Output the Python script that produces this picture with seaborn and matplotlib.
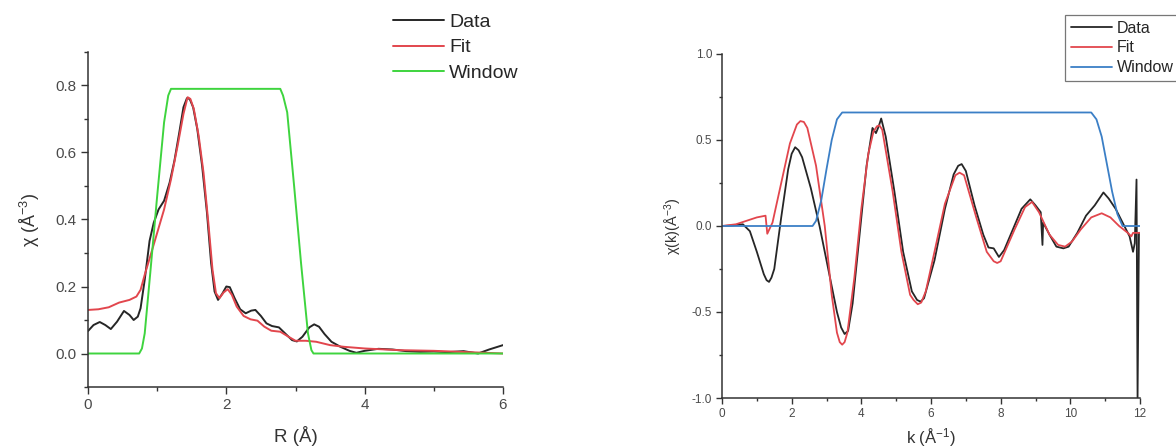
import numpy as np
import pandas as pd
import matplotlib
matplotlib.use("Agg")
import matplotlib.pyplot as plt
from matplotlib.ticker import MultipleLocator, FormatStrFormatter
import seaborn as sns

# ---------------- R-space (Fourier transform magnitude) ----------------
r_data = [0.00, 0.08, 0.17, 0.25, 0.33, 0.42, 0.52, 0.60, 0.66, 0.72, 0.76, 0.82,
          0.89, 0.95, 1.02, 1.10, 1.18, 1.25, 1.32, 1.38, 1.43, 1.47, 1.52, 1.58,
          1.65, 1.72, 1.78, 1.83, 1.88, 1.94, 2.00, 2.05, 2.12, 2.20, 2.28, 2.36,
          2.42, 2.50, 2.58, 2.66, 2.76, 2.85, 2.95, 3.02, 3.10, 3.20, 3.27, 3.34,
          3.42, 3.52, 3.65, 3.78, 3.88, 4.00, 4.20, 4.40, 4.60, 4.80, 5.00, 5.20,
          5.43, 5.64, 5.80, 6.00]
chi_r_data = [0.067, 0.085, 0.094, 0.085, 0.073, 0.095, 0.127, 0.115, 0.100, 0.110,
              0.135, 0.220, 0.336, 0.390, 0.430, 0.456, 0.510, 0.576, 0.660, 0.735,
              0.762, 0.760, 0.735, 0.670, 0.560, 0.420, 0.270, 0.185, 0.160, 0.178,
              0.200, 0.198, 0.165, 0.132, 0.120, 0.128, 0.130, 0.112, 0.090, 0.082,
              0.078, 0.060, 0.040, 0.036, 0.050, 0.078, 0.087, 0.080, 0.058, 0.035,
              0.020, 0.008, 0.002, 0.008, 0.014, 0.012, 0.007, 0.005, 0.006, 0.004,
              0.007, 0.000, 0.012, 0.025]

r_fit = [0.00, 0.15, 0.30, 0.45, 0.60, 0.70, 0.76, 0.82, 0.90, 1.00, 1.10, 1.20,
         1.30, 1.38, 1.44, 1.48, 1.53, 1.60, 1.67, 1.74, 1.80, 1.85, 1.90, 1.96,
         2.02, 2.08, 2.15, 2.25, 2.35, 2.45, 2.55, 2.65, 2.78, 2.90, 3.00, 3.15,
         3.30, 3.50, 3.70, 4.00, 4.50, 5.00, 5.50, 6.00]
chi_r_fit = [0.130, 0.132, 0.138, 0.152, 0.160, 0.170, 0.190, 0.235, 0.290, 0.360,
             0.430, 0.520, 0.625, 0.715, 0.765, 0.760, 0.730, 0.650, 0.540, 0.390,
             0.250, 0.180, 0.165, 0.182, 0.192, 0.175, 0.140, 0.112, 0.102, 0.098,
             0.080, 0.068, 0.065, 0.050, 0.038, 0.038, 0.035, 0.025, 0.020, 0.015,
             0.010, 0.008, 0.004, 0.000]

r_window = [0.00, 0.74, 0.78, 0.82, 0.90, 1.00, 1.10, 1.16, 1.20, 2.78, 2.82,
            2.88, 2.98, 3.08, 3.18, 3.23, 3.26, 6.00]
w_r_window = [0.00, 0.00, 0.015, 0.06, 0.24, 0.47, 0.69, 0.77, 0.79, 0.79, 0.77,
              0.72, 0.50, 0.27, 0.06, 0.01, 0.00, 0.00]

# ---------------- k-space (weighted EXAFS oscillations) ----------------
k_data = [0.00, 0.30, 0.60, 0.80, 1.00, 1.20, 1.28, 1.35, 1.42, 1.50, 1.70, 1.90,
          2.00, 2.10, 2.20, 2.30, 2.55, 2.80, 3.05, 3.30, 3.42, 3.52, 3.62, 3.75,
          3.95, 4.15, 4.32, 4.42, 4.50, 4.57, 4.70, 4.95, 5.20, 5.45, 5.60, 5.70,
          5.80, 6.10, 6.40, 6.65, 6.78, 6.88, 7.00, 7.25, 7.50, 7.65, 7.80, 7.95,
          8.10, 8.35, 8.60, 8.85, 9.00, 9.15, 9.20, 9.22, 9.40, 9.60, 9.80, 9.95,
          10.20, 10.45, 10.70, 10.95, 11.10, 11.30, 11.50, 11.70, 11.80, 11.85,
          11.90, 11.93, 11.97, 12.00]
chi_k_data = [0.000, 0.003, 0.010, -0.030, -0.150, -0.280, -0.315, -0.325, -0.300,
              -0.250, 0.050, 0.330, 0.420, 0.458, 0.440, 0.400, 0.220, 0.000,
              -0.250, -0.500, -0.590, -0.628, -0.610, -0.450, -0.050, 0.350, 0.570,
              0.540, 0.580, 0.625, 0.520, 0.200, -0.150, -0.380, -0.430, -0.440,
              -0.420, -0.200, 0.100, 0.300, 0.350, 0.360, 0.320, 0.120, -0.050,
              -0.125, -0.130, -0.180, -0.140, -0.020, 0.100, 0.155, 0.120, 0.080,
              -0.110, 0.020, -0.050, -0.120, -0.130, -0.120, -0.040, 0.060, 0.120,
              0.195, 0.160, 0.100, 0.020, -0.060, -0.150, -0.100, 0.270, -1.000,
              -0.040, -0.040]

k_fit = [0.00, 0.40, 0.70, 1.00, 1.25, 1.30, 1.45, 1.70, 1.95, 2.15, 2.25, 2.35,
         2.45, 2.70, 2.95, 3.15, 3.30, 3.38, 3.45, 3.52, 3.60, 3.80, 4.00, 4.20,
         4.35, 4.45, 4.52, 4.60, 4.90, 5.15, 5.40, 5.50, 5.62, 5.72, 5.85, 6.10,
         6.40, 6.70, 6.82, 6.95, 7.30, 7.60, 7.80, 7.90, 8.00, 8.40, 8.70, 8.90,
         9.10, 9.40, 9.65, 9.85, 10.05, 10.30, 10.60, 10.90, 11.15, 11.40, 11.65,
         11.75, 11.80, 12.00]
chi_k_fit = [0.000, 0.010, 0.030, 0.050, 0.060, -0.045, 0.020, 0.250, 0.480, 0.590,
             0.610, 0.605, 0.570, 0.350, 0.000, -0.400, -0.620, -0.675, -0.690,
             -0.675, -0.620, -0.300, 0.100, 0.420, 0.550, 0.580, 0.585, 0.560,
             0.200, -0.150, -0.400, -0.430, -0.455, -0.445, -0.380, -0.150, 0.130,
             0.295, 0.310, 0.295, 0.050, -0.150, -0.205, -0.215, -0.205, -0.020,
             0.110, 0.140, 0.080, -0.050, -0.110, -0.120, -0.090, -0.020, 0.050,
             0.074, 0.050, 0.000, -0.040, -0.060, -0.040, -0.040]

k_window = [0.00, 2.60, 2.70, 2.85, 3.00, 3.15, 3.30, 3.45, 10.60, 10.75, 10.90,
            11.05, 11.20, 11.35, 11.50, 12.00]
w_k_window = [0.00, 0.00, 0.03, 0.15, 0.33, 0.50, 0.62, 0.66, 0.66, 0.62, 0.52,
              0.36, 0.20, 0.07, 0.00, 0.00]

series_labels = ["Data", "Fit", "Window"]

sns.set_theme(style="ticks")
plt.rcParams["font.family"] = ["Liberation Sans", "DejaVu Sans"]
plt.rcParams["mathtext.default"] = "regular"

fig = plt.figure(figsize=(11.76, 4.48), dpi=100)
W, H = 1176.0, 448.0
ax_r = fig.add_axes([88 / W, (H - 387) / H, 415 / W, 335 / H])
ax_k = fig.add_axes([722 / W, (H - 398) / H, 418 / W, 344 / H])

black = "#262626"
red = "#e2464d"
green = "#3ed43e"
blue = "#3b7fc6"

df_r = pd.concat([
    pd.DataFrame({"x": r_data, "y": chi_r_data, "s": series_labels[0]}),
    pd.DataFrame({"x": r_fit, "y": chi_r_fit, "s": series_labels[1]}),
    pd.DataFrame({"x": r_window, "y": w_r_window, "s": series_labels[2]}),
])
df_k = pd.concat([
    pd.DataFrame({"x": k_data, "y": chi_k_data, "s": series_labels[0]}),
    pd.DataFrame({"x": k_fit, "y": chi_k_fit, "s": series_labels[1]}),
    pd.DataFrame({"x": k_window, "y": w_k_window, "s": series_labels[2]}),
])

sns.lineplot(data=df_r, x="x", y="y", hue="s", hue_order=series_labels,
             palette=[black, red, green], estimator=None, sort=False,
             linewidth=1.4, ax=ax_r, legend=True)
sns.lineplot(data=df_k, x="x", y="y", hue="s", hue_order=series_labels,
             palette=[black, red, blue], estimator=None, sort=False,
             linewidth=1.3, ax=ax_k, legend=True)

tick_col = "#4a4a4a"
spine_col = "#333333"

# left panel axes
ax_r.set_xlim(0, 6)
ax_r.set_ylim(-0.1, 0.9)
ax_r.xaxis.set_major_locator(MultipleLocator(2))
ax_r.xaxis.set_minor_locator(MultipleLocator(1))
ax_r.set_yticks([0.0, 0.2, 0.4, 0.6, 0.8])
ax_r.yaxis.set_minor_locator(MultipleLocator(0.1))
ax_r.yaxis.set_major_formatter(FormatStrFormatter("%.1f"))
ax_r.set_xlabel("R (Å)", fontsize=13.5, color="#333333", labelpad=10)
ax_r.set_ylabel("χ (Å$^{-3}$)", fontsize=13, color="#333333", labelpad=10)
ax_r.tick_params(axis="both", which="major", direction="out", length=5,
                 width=1, labelsize=11, colors=spine_col, labelcolor=tick_col, pad=3)
ax_r.tick_params(axis="both", which="minor", direction="out", length=3,
                 width=1, colors=spine_col)

# right panel axes
ax_k.set_xlim(0, 12)
ax_k.set_ylim(-1.0, 1.0)
ax_k.xaxis.set_major_locator(MultipleLocator(2))
ax_k.xaxis.set_minor_locator(MultipleLocator(1))
ax_k.yaxis.set_major_locator(MultipleLocator(0.5))
ax_k.yaxis.set_minor_locator(MultipleLocator(0.25))
ax_k.yaxis.set_major_formatter(FormatStrFormatter("%.1f"))
ax_k.set_xlabel("k (Å$^{-1}$)", fontsize=12, color="#333333", labelpad=5)
ax_k.set_ylabel("χ(k)(Å$^{-3}$)", fontsize=10.5, color="#333333", labelpad=6)
ax_k.tick_params(axis="both", which="major", direction="out", length=4,
                 width=1, labelsize=8.5, colors=spine_col, labelcolor=tick_col, pad=3)
ax_k.tick_params(axis="both", which="minor", direction="out", length=2.5,
                 width=1, colors=spine_col)

for ax in (ax_r, ax_k):
    sns.despine(ax=ax)
    for sp in ("left", "bottom"):
        ax.spines[sp].set_color(spine_col)
        ax.spines[sp].set_linewidth(1.1)

# legends
h_r, l_r = ax_r.get_legend_handles_labels()
ax_r.get_legend().remove()
fig.legend(h_r, l_r, loc="upper left", bbox_to_anchor=(393 / W, 1 - 13 / H),
           frameon=False, fontsize=14, handlelength=2.6, handletextpad=0.3,
           labelspacing=0.42, borderpad=0, borderaxespad=0)

h_k, l_k = ax_k.get_legend_handles_labels()
ax_k.get_legend().remove()
leg = fig.legend(h_k, l_k, loc="upper left", bbox_to_anchor=(1065 / W, 1 - 15 / H),
                 frameon=True, fancybox=False, fontsize=11.5, handlelength=2.6,
                 handletextpad=0.3, labelspacing=0.3, borderpad=0.35,
                 borderaxespad=0)
leg.get_frame().set_edgecolor("#555555")
leg.get_frame().set_linewidth(0.9)

fig.savefig("out.png", dpi=100)
